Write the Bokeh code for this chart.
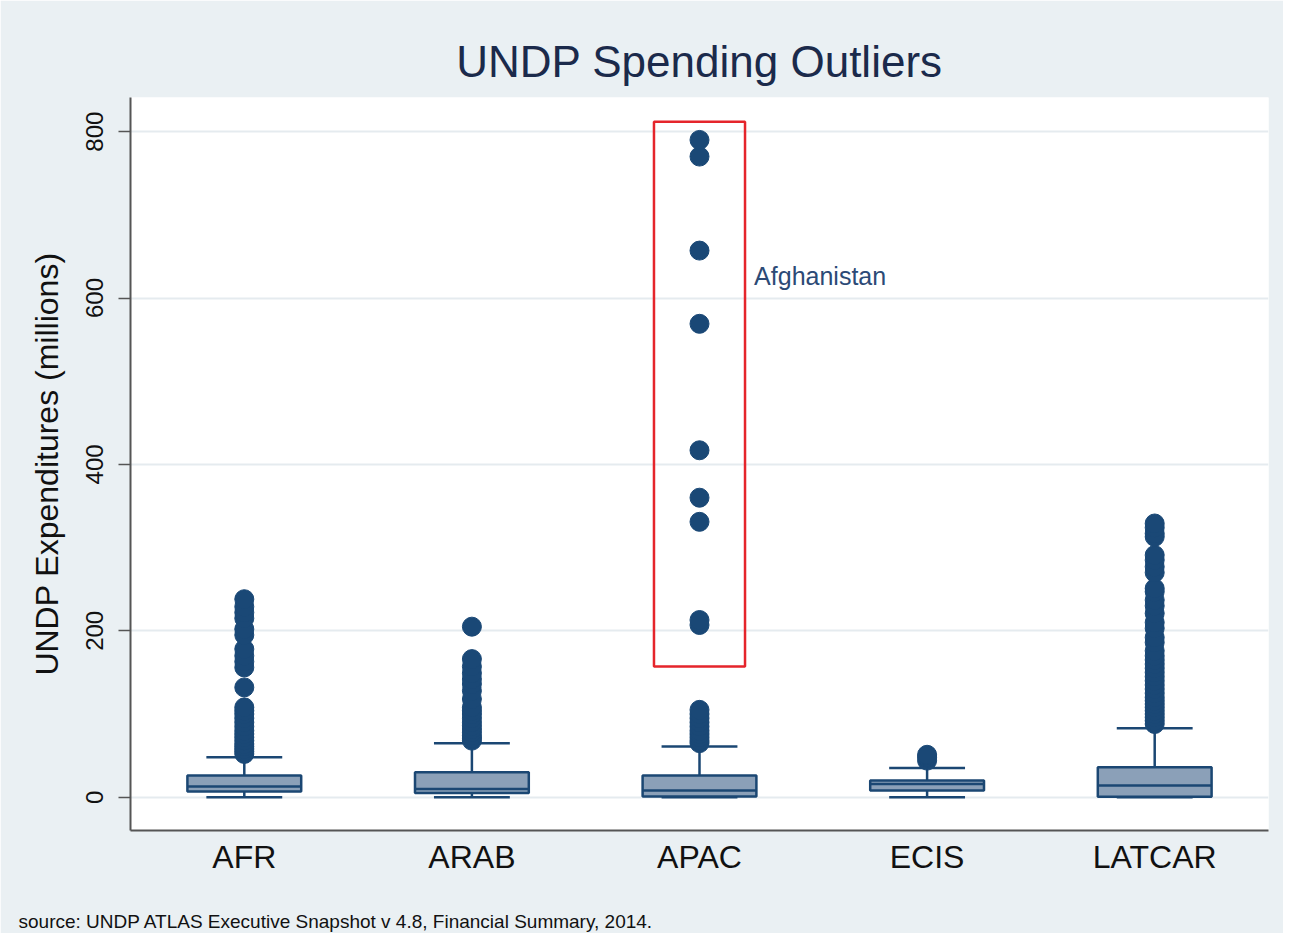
from bokeh.plotting import figure
from bokeh.models import Range1d, FixedTicker, Label
from bokeh.core.properties import value
from bokeh.embed import file_html
from bokeh.resources import INLINE

# ---- data ----
regions = ["AFR", "ARAB", "APAC", "ECIS", "LATCAR"]
whisker_low = [0, 0, 0, 0, 0]
q1 = [7, 5, 1, 8, 0.5]
median = [13, 10, 8, 16, 14]
q3 = [26, 30, 26, 20, 36]
whisker_high = [48, 65, 61, 35, 83]

afr_outliers = [52, 55, 58, 61, 64, 68, 72, 76, 80, 85, 90, 95, 100, 104, 108,
                132, 156, 163, 170, 178, 195, 202, 215, 222, 229, 238]
arab_outliers = [68, 71, 74, 78, 82, 86, 90, 95, 100, 104, 108, 118, 128, 136,
                 142, 149, 157, 166, 205]
apac_outliers = [65, 68, 72, 76, 80, 85, 90, 95, 100, 105]
afghanistan = [207, 213, 331, 360, 417, 569, 657, 770, 790]
ecis_outliers = [44, 48, 51]
latcar_outliers = [88, 92, 96, 100, 104, 108, 112, 116, 120, 125, 130, 135, 140,
                   145, 150, 155, 160, 165, 170, 176, 186, 192, 203, 210, 221,
                   230, 237, 247, 251, 270, 277, 285, 291, 313, 317, 324, 329]

y_ticks = [0, 200, 400, 600, 800]
title_text = "UNDP Spending Outliers"
y_label = "UNDP Expenditures (millions)"
source_text = "source: UNDP ATLAS Executive Snapshot v 4.8, Financial Summary, 2014."
highlight_region = "APAC"
highlight_label = "Afghanistan"
highlight_label_y = 626

# ---- styles ----
FONT = "Liberation Sans"
BG = "#EAF0F3"
BOX_FILL = "#8BA0B8"
DARK = "#1B4773"
DOT = "#1A4876"

p = figure(width=1283, height=933, output_backend="svg", toolbar_location=None,
           x_range=Range1d(0, len(regions)), y_range=Range1d(-40, 841),
           min_border_left=130, min_border_right=15, min_border_top=97,
           min_border_bottom=103)
p.background_fill_color = "white"
p.border_fill_color = BG
p.outline_line_color = None

p.title.text = title_text
p.title.align = "center"
p.title.text_font = FONT
p.title.text_font_size = "44px"
p.title.text_font_style = "normal"
p.title.text_color = "#1B2A4B"
p.title.standoff = 23

xs = [i + 0.5 for i in range(len(regions))]

# whiskers
p.segment(x0=xs, x1=xs, y0=q3, y1=whisker_high, line_color=DARK, line_width=2.5)
p.segment(x0=xs, x1=xs, y0=whisker_low, y1=q1, line_color=DARK, line_width=2.5)
cap = 1 / 6
p.segment(x0=[x - cap for x in xs], x1=[x + cap for x in xs], y0=whisker_high,
          y1=whisker_high, line_color=DARK, line_width=2.5)
p.segment(x0=[x - cap for x in xs], x1=[x + cap for x in xs], y0=whisker_low,
          y1=whisker_low, line_color=DARK, line_width=2.5)
# boxes
p.quad(left=[x - 0.25 for x in xs], right=[x + 0.25 for x in xs], bottom=q1, top=q3,
       fill_color=BOX_FILL, line_color=DARK, line_width=2.5)
p.segment(x0=[x - 0.25 for x in xs], x1=[x + 0.25 for x in xs], y0=median, y1=median,
          line_color=DARK, line_width=2.5)

# outliers
groups = [afr_outliers, arab_outliers, apac_outliers + afghanistan, ecis_outliers, latcar_outliers]
ox, oy = [], []
for x, g in zip(xs, groups):
    ox += [x] * len(g)
    oy += g
p.scatter(ox, oy, size=19, fill_color=DOT, line_color=DOT)

# highlight
hx = xs[regions.index(highlight_region)]
p.quad(left=[hx - 0.2], right=[hx + 0.2], bottom=[min(afghanistan) - 50],
       top=[max(afghanistan) + 22], fill_color=None, line_color="#E5252B", line_width=2.5)
p.text(x=[hx + 0.24], y=[highlight_label_y], text=[highlight_label],
       text_font=value(FONT), text_font_size="25px", text_color="#2C4A76",
       text_baseline="middle", text_align="left")

# axes
p.xaxis.ticker = FixedTicker(ticks=xs)
p.xaxis.major_label_overrides = {x: r for x, r in zip(xs, regions)}
p.xaxis.major_label_text_font = FONT
p.xaxis.major_label_text_font_size = "32px"
p.xaxis.major_label_text_color = "#111111"
p.xaxis.major_tick_out = 0
p.xaxis.major_tick_in = 0
p.xaxis.minor_tick_line_color = None
p.xaxis.axis_line_color = "#555555"
p.xaxis.axis_line_width = 2
p.xaxis.major_label_standoff = 8

p.yaxis.ticker = FixedTicker(ticks=y_ticks)
p.yaxis.major_label_orientation = "vertical"
p.yaxis.major_label_text_font = FONT
p.yaxis.major_label_text_font_size = "24px"
p.yaxis.major_label_text_color = "#111111"
p.yaxis.major_tick_out = 12
p.yaxis.major_tick_in = 0
p.yaxis.major_tick_line_color = "#555555"
p.yaxis.major_tick_line_width = 1.5
p.yaxis.minor_tick_line_color = None
p.yaxis.axis_line_color = "#555555"
p.yaxis.axis_line_width = 2
p.yaxis.major_label_standoff = 15
p.yaxis.axis_label = y_label
p.yaxis.axis_label_text_font = FONT
p.yaxis.axis_label_text_font_size = "32px"
p.yaxis.axis_label_text_font_style = "normal"
p.yaxis.axis_label_text_color = "#111111"
p.yaxis.axis_label_standoff = 19

p.xgrid.grid_line_color = None
p.ygrid.grid_line_color = "#E5EBEF"
p.ygrid.grid_line_width = 2

src = Label(x=18, y=921, x_units="canvas", y_units="canvas", text=source_text,
            text_font=FONT, text_font_size="19px", text_color="#111111",
            text_baseline="middle", text_align="left")
p.add_layout(src, "below")

open("out.html", "w").write(file_html(p, INLINE))
